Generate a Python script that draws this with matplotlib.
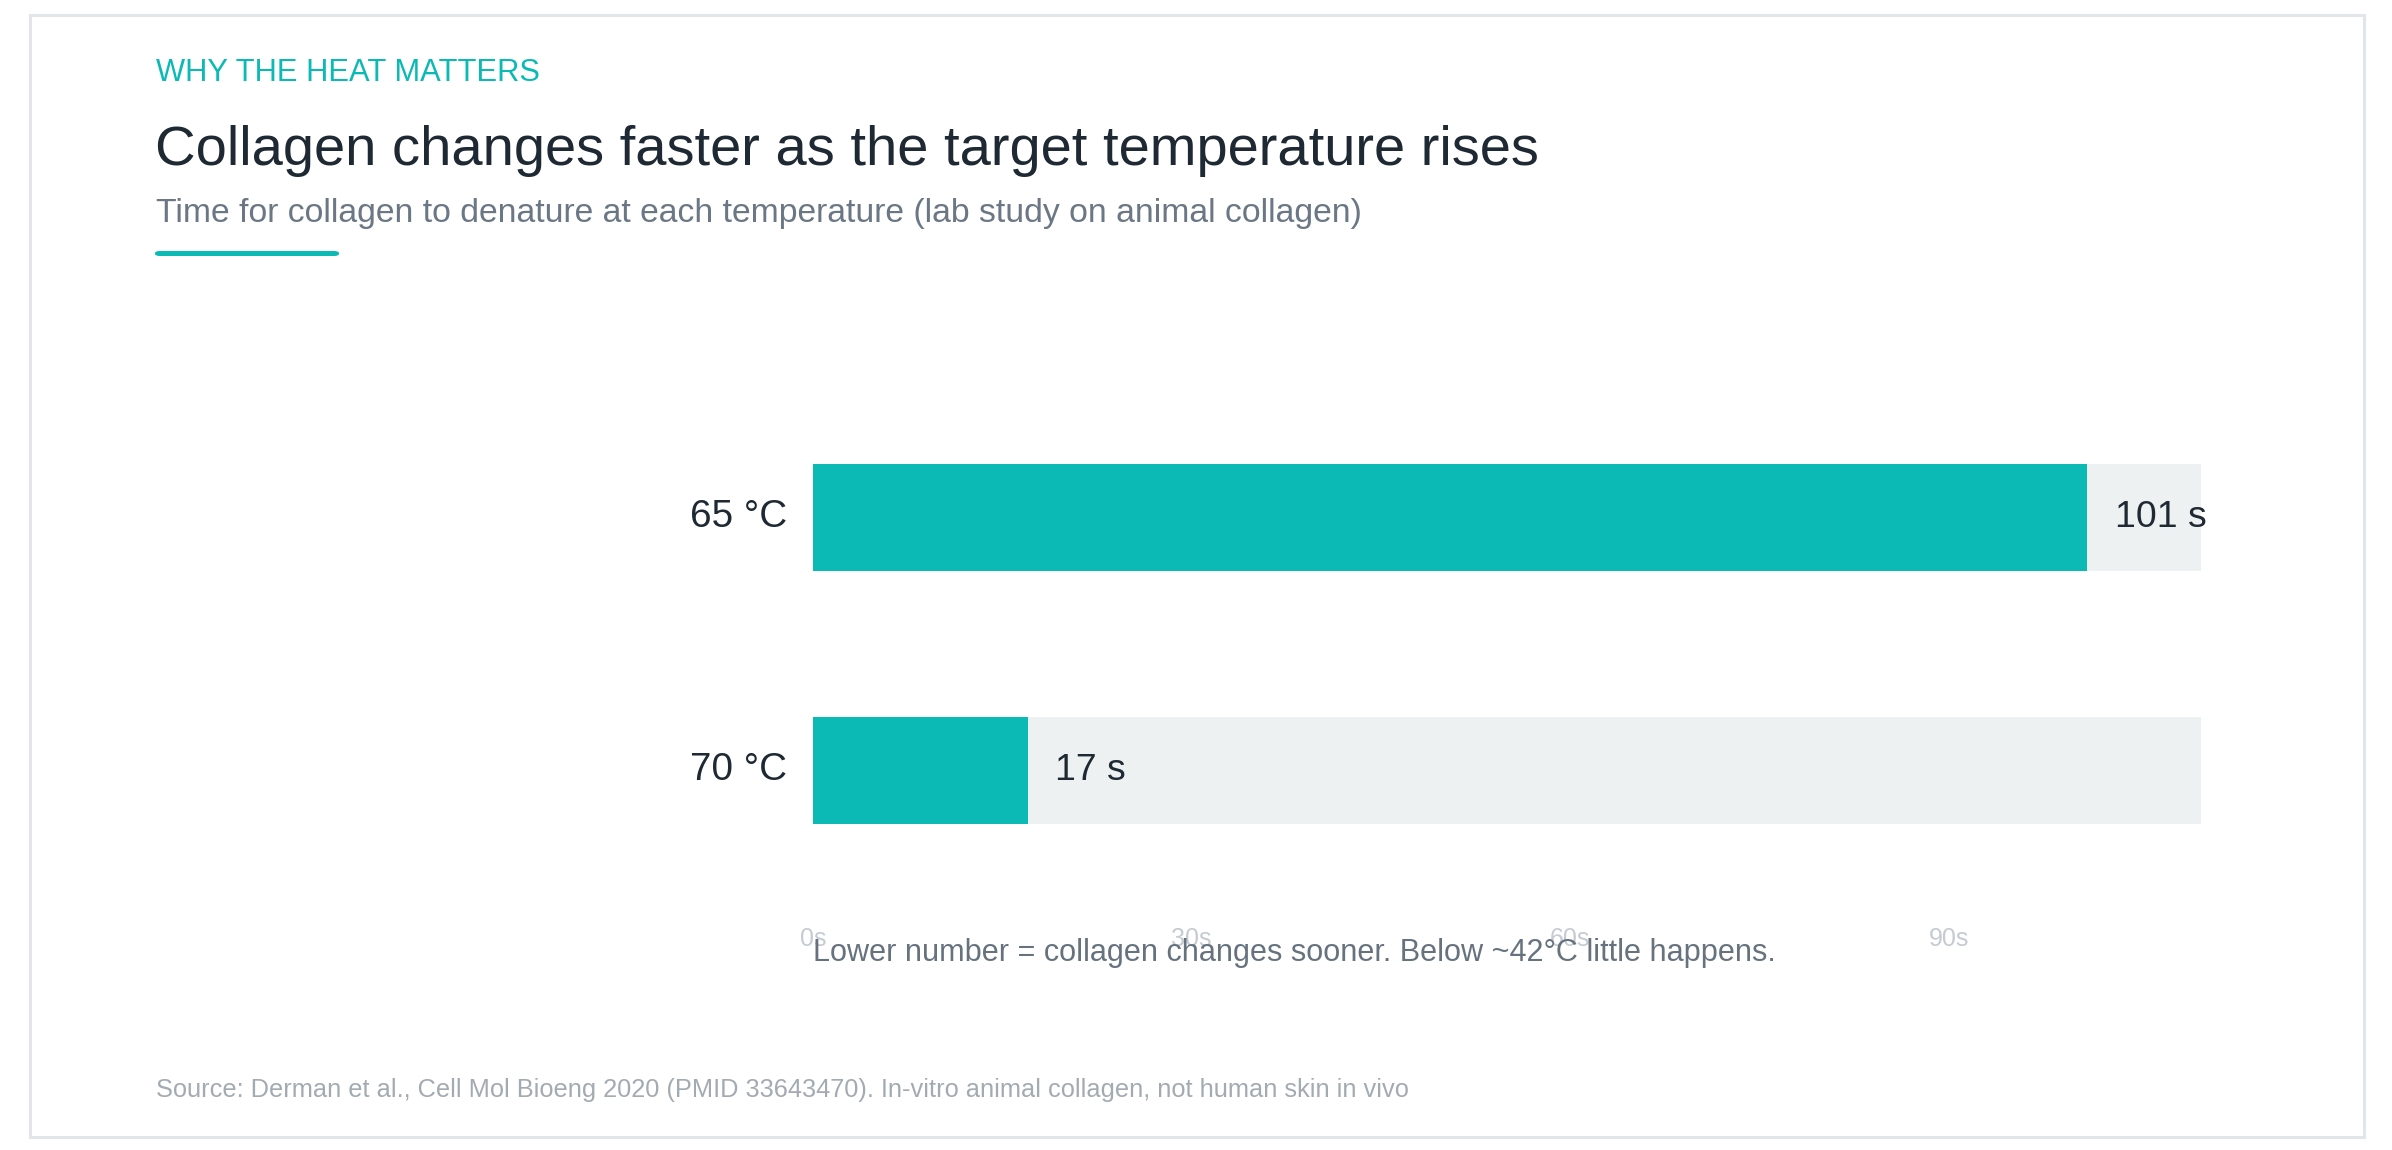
import matplotlib
matplotlib.use("Agg")
import matplotlib.pyplot as plt
from matplotlib.patches import Rectangle, FancyBboxPatch
from matplotlib.transforms import blended_transform_factory

plt.rcParams["font.family"] = ["Liberation Sans", "DejaVu Sans"]

# data
temps = ["65 °C", "70 °C"]
seconds = [101, 17]
ticks = [0, 30, 60, 90]
xmax = 110

W, H = 2392, 1150
teal = "#0BBAB5"
track = "#EDF1F2"
dark = "#1F2933"

fig = plt.figure(figsize=(W / 100, H / 100), dpi=100)

def fx(px):
    return px / W

def fy(py):
    return 1 - py / H

# frame
fig.patches.append(Rectangle((fx(29.5), fy(1136.5)), fx(2363.5) - fx(29.5), fy(14.5) - fy(1136.5),
                             transform=fig.transFigure, fill=False, edgecolor="#E2E6E9", linewidth=2.2))

# header
fig.text(fx(156), fy(81), "WHY THE HEAT MATTERS", color=teal, fontsize=22.2, va="baseline")
fig.text(fx(155), fy(165), "Collagen changes faster as the target temperature rises",
         color=dark, fontsize=40.4, va="baseline")
fig.text(fx(156), fy(222), "Time for collagen to denature at each temperature (lab study on animal collagen)",
         color="#6B7785", fontsize=24.3, va="baseline")
fig.patches.append(FancyBboxPatch((fx(155), fy(256)), fx(339) - fx(155), fy(251) - fy(256),
                                  boxstyle="round,pad=0,rounding_size=0.002", transform=fig.transFigure,
                                  facecolor=teal, edgecolor="none"))

# axes: x 813..2201 px, y 400..900 px
ax_top, ax_bot = 400, 900
ax = fig.add_axes([fx(813), fy(ax_bot), fx(2201) - fx(813), (ax_bot - ax_top) / H])
unit = 253.0
y0 = -(517.5 - ax_top) / unit
ax.set_ylim(y0 + (ax_bot - ax_top) / unit, y0)
ax.set_xlim(0, xmax)

ypos = list(range(len(temps)))
bh = 107 / unit
ax.barh(ypos, [xmax] * len(temps), height=bh, color=track, linewidth=0)
ax.barh(ypos, seconds, height=bh, color=teal, linewidth=0)

for y, v in zip(ypos, seconds):
    ax.annotate(f"{v} s", xy=(v, y), xytext=(19.5, 0.2), textcoords="offset points",
                va="center", ha="left", fontsize=26.9, color=dark)

for y, t in zip(ypos, temps):
    ax.annotate(t, xy=(0, y), xytext=(-18.7, 0.6), textcoords="offset points",
                va="center", ha="right", fontsize=27.8, color=dark)

ax.set_yticks([])
ax.set_xticks(ticks)
ax.set_xticklabels([f"{t}s" for t in ticks], fontsize=18, color="#C5CBD0")
ax.tick_params(axis="x", length=0, pad=19.5)
for s in ax.spines.values():
    s.set_visible(False)
ax.set_facecolor("none")

tr = blended_transform_factory(ax.transData, fig.transFigure)
ax.text(0, fy(961), "Lower number = collagen changes sooner. Below ~42°C little happens.",
        transform=tr, fontsize=22.1, color="#66737F", va="baseline", ha="left")

fig.text(fx(156), fy(1097), "Source: Derman et al., Cell Mol Bioeng 2020 (PMID 33643470). In-vitro animal collagen, not human skin in vivo",
         color="#A3ABB2", fontsize=18.3, va="baseline")

fig.savefig("out.png", dpi=100)
